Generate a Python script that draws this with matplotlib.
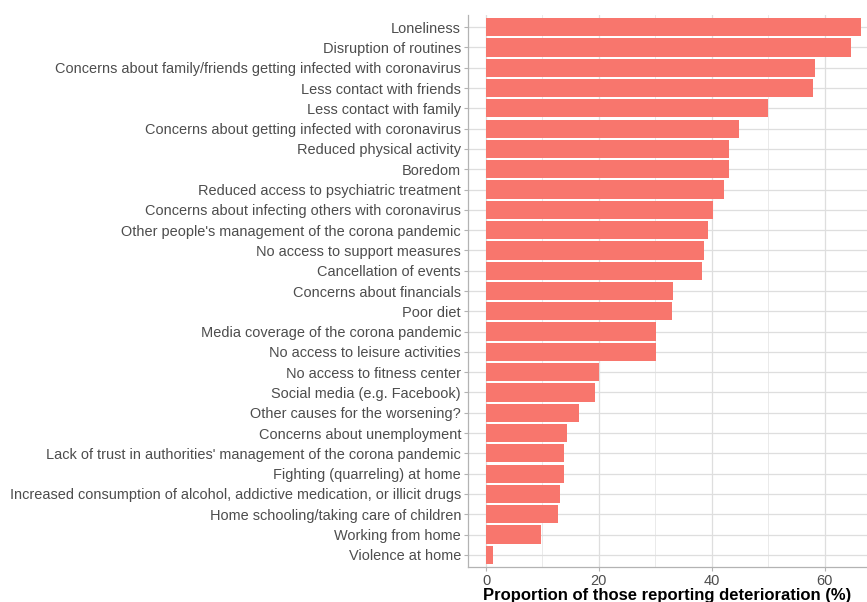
import matplotlib.pyplot as plt
import numpy as np

categories = [
    "Loneliness",
    "Disruption of routines",
    "Concerns about family/friends getting infected with coronavirus",
    "Less contact with friends",
    "Less contact with family",
    "Concerns about getting infected with coronavirus",
    "Reduced physical activity",
    "Boredom",
    "Reduced access to psychiatric treatment",
    "Concerns about infecting others with coronavirus",
    "Other people's management of the corona pandemic",
    "No access to support measures",
    "Cancellation of events",
    "Concerns about financials",
    "Poor diet",
    "Media coverage of the corona pandemic",
    "No access to leisure activities",
    "No access to fitness center",
    "Social media (e.g. Facebook)",
    "Other causes for the worsening?",
    "Concerns about unemployment",
    "Lack of trust in authorities' management of the corona pandemic",
    "Fighting (quarreling) at home",
    "Increased consumption of alcohol, addictive medication, or illicit drugs",
    "Home schooling/taking care of children",
    "Working from home",
    "Violence at home",
]
values = [66.5, 64.6, 58.2, 58.0, 49.9, 44.8, 43.0, 43.0, 42.1, 40.3, 39.3,
          38.7, 38.2, 33.1, 32.9, 30.1, 30.1, 20.0, 19.3, 16.4, 14.3, 13.9,
          13.8, 13.1, 12.7, 9.7, 1.2]
x_ticks = [0, 20, 40, 60]

plt.rcParams['font.family'] = ['Liberation Sans', 'DejaVu Sans']

fig = plt.figure(figsize=(8.67, 6.02), dpi=100)
ax = fig.add_axes([468 / 867, 1 - 567 / 602, 1 - 468 / 867, (567 - 15) / 602])

n = len(categories)
y_pos = np.arange(n)[::-1]
ax.barh(y_pos, values, height=0.9, color='#F8766D', zorder=3)

ax.set_xlim(-3.19, 67.5)
ax.set_ylim(-0.6, n - 0.4)
ax.set_yticks(y_pos)
ax.set_yticklabels(categories, fontsize=10.45, color='#4D4D4D')
ax.set_xticks(x_ticks)
ax.set_xticklabels([str(t) for t in x_ticks], fontsize=10.5, color='#4D4D4D')
ax.set_xticks([10, 30, 50], minor=True)

ax.grid(True, which='major', color='#DEDEDE', linewidth=0.9, zorder=0)
ax.grid(True, which='minor', axis='x', color='#E6E6E6', linewidth=0.6, zorder=0)
ax.tick_params(axis='both', which='major', length=3, color='#B3B3B3', pad=2)
ax.tick_params(axis='x', which='minor', length=0)

for side in ['top', 'right']:
    ax.spines[side].set_visible(False)
for side in ['left', 'bottom']:
    ax.spines[side].set_color('#B3B3B3')
    ax.spines[side].set_linewidth(0.9)

ax.set_xlabel('Proportion of those reporting deterioration (%)', fontsize=12,
              fontweight='bold', color='black', labelpad=0)

fig.savefig('out.png', dpi=100)
